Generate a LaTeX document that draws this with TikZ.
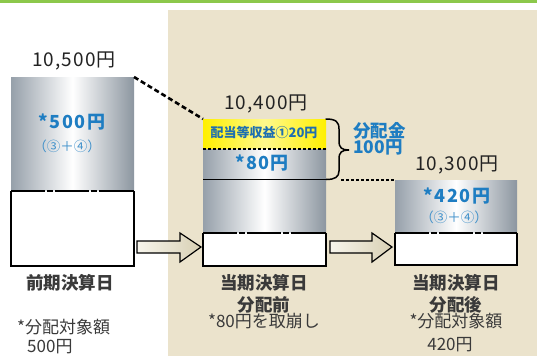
\documentclass[tikz,border=0pt]{standalone}
\usepackage{fontspec}
\setmainfont{Noto Sans CJK JP}
\usetikzlibrary{calc}
\definecolor{topgreen}{HTML}{8CC84B}
\definecolor{beige}{HTML}{EBE3CC}
\definecolor{metalA}{HTML}{96A0AA}
\definecolor{metalB}{HTML}{8C96A0}
\definecolor{lblue}{HTML}{1E7DC2}
\definecolor{dblue}{HTML}{1F6FB0}
\definecolor{txt}{HTML}{222222}
\definecolor{txtg}{HTML}{3A3A3A}
\definecolor{ylw}{HTML}{FFF000}
\definecolor{arrL}{HTML}{F7F5EC}
\definecolor{arrR}{HTML}{D8D0B4}
\tikzset{
  metal/.style={shade, left color=metalA, right color=metalB, middle color=white, inner sep=0pt, outer sep=0pt, anchor=north west},
  whitebox/.style={fill=white, inner sep=0pt, outer sep=0pt, anchor=north west},
  boxline/.style={line width=1.4pt, draw=black},
  brokenline/.style={line width=1.8pt, draw=black, dash pattern=on 34pt off 2pt on 6pt off 2pt on 34pt off 2pt on 6pt off 2pt on 60pt},
  dotline/.style={line width=1.8pt, draw=black, dash pattern=on 3pt off 2pt},
  bignum/.style={text=txt, font=\fontsize{19}{19}\selectfont\addfontfeature{LetterSpace=6}, inner sep=0pt},
  inlbl/.style={text=lblue, font=\bfseries\fontsize{18}{18}\selectfont\addfontfeature{LetterSpace=8}, inner sep=0pt},
  insub/.style={text=lblue!85, font=\fontsize{13.5}{13.5}\selectfont, inner sep=0pt},
  caption/.style={text=txtg, font=\bfseries\fontsize{17.5}{17.5}\selectfont, inner sep=0pt},
  note/.style={text=txtg, font=\fontsize{17}{17}\selectfont, inner sep=0pt},
  fatarrow/.style={left color=arrL, right color=arrR, draw=black, line width=1.2pt},
}
\begin{document}
\begin{tikzpicture}[x=1pt,y=-1pt]
\useasboundingbox (0,0) rectangle (537,356);
\fill[white] (0,0) rectangle (537,356);
\fill[topgreen] (0,0) rectangle (537,2.5);
\fill[beige] (168,10) rectangle (537,356);

% ---- box 1 ----
\node[metal, minimum width=123pt, minimum height=114pt] (g1) at (11,77) {};
\node[whitebox, minimum width=123pt, minimum height=75pt] (w1) at (11,191) {};
\draw[boxline] (w1.north west) -- (w1.south west) -- (w1.south east) -- (w1.north east);
\draw[brokenline] (w1.north west) -- (w1.north east);

% ---- box 2 ----
\node[shade, left color=ylw, right color=ylw, middle color=ylw!45, inner sep=0pt, outer sep=0pt, anchor=north west, minimum width=123pt, minimum height=30pt] (y2) at (203,119) {};
\node[metal, minimum width=123pt, minimum height=84pt] (g2) at (203,149) {};
\node[whitebox, minimum width=123pt, minimum height=33pt] (w2) at (203,233) {};
\draw[boxline] (w2.north west) -- (w2.south west) -- (w2.south east) -- (w2.north east);
\draw[brokenline] (w2.north west) -- (w2.north east);
\draw[dotline] (y2.south west) -- (y2.south east);
\coordinate (s2l) at (203,179.5);
\coordinate (s2r) at (326,179.5);
\draw[line width=1.8pt] (s2l) -- (s2r);

% ---- box 3 ----
\node[metal, minimum width=122pt, minimum height=53pt] (g3) at (395,180) {};
\node[whitebox, minimum width=122pt, minimum height=32pt] (w3) at (395,233) {};
\draw[boxline] (w3.north west) -- (w3.south west) -- (w3.south east) -- (w3.north east);
\draw[brokenline] (w3.north west) -- (w3.north east);

% ---- connectors ----
\draw[line width=2.6pt, dash pattern=on 5pt off 3pt] (g1.north east) -- (y2.north west);
\draw[line width=1.5pt, line cap=round]
  (y2.north east) .. controls (336,119) and (339,122) .. (339,129)
  -- (339,141) .. controls (339,148) and (342,150) .. (349,150)
  .. controls (342,150) and (339,152) .. (339,159)
  -- (339,171) .. controls (339,177) and (335,179.5) .. (s2r);
\coordinate (dotstart) at (341,180);
\draw[dotline] (dotstart) -- (g3.north west);

% ---- arrows ----
\draw[fatarrow] (137,241) -- (180,241) -- (180,233) -- (201,247) -- (180,262) -- (180,253) -- (137,253) -- cycle;
\draw[fatarrow] (330,241) -- (372,241) -- (372,233) -- (392,247) -- (372,262) -- (372,253) -- (330,253) -- cycle;

% ---- texts ----
\node[bignum] (t1) at (74,61) {10,500円};
\node[bignum] (t2) at (266,104) {10,400円};
\node[bignum] (t3) at (457,165) {10,300円};

\node[inlbl] (a1) at (72,122) {*500円};
\node[insub] (b1) at (67,146) {（③＋④）};
\node[text=dblue, font=\bfseries\fontsize{13}{13}\selectfont, inner sep=0pt] (c2) at (264,132) {配当等収益①20円};
\node[inlbl] (a2) at (262,163) {*80円};
\node[inlbl] (a3) at (457,196) {*420円};
\node[insub] (b3) at (454,217) {（③＋④）};
\node[inlbl, align=left, anchor=west, font=\bfseries\fontsize{17.5}{16}\selectfont] (d2) at (353,139) {分配金\\100円};

\node[caption] (e1) at (70,283) {前期決算日};
\node[note, anchor=west] (f1) at (17,327) {*分配対象額};
\node[note, anchor=west] (h1) at (27,347) {500円};

\node[caption, align=center, font=\bfseries\fontsize{17.5}{22}\selectfont] (e2) at (264,294) {当期決算日\\分配前};
\node[note] (f2) at (264,321) {*80円を取崩し};

\node[caption, align=center, font=\bfseries\fontsize{17.5}{22}\selectfont] (e3) at (456,294) {当期決算日\\分配後};
\node[note] (f3) at (456,321) {*分配対象額};
\node[note] (h3) at (450,345) {420円};
\end{tikzpicture}
\end{document}
